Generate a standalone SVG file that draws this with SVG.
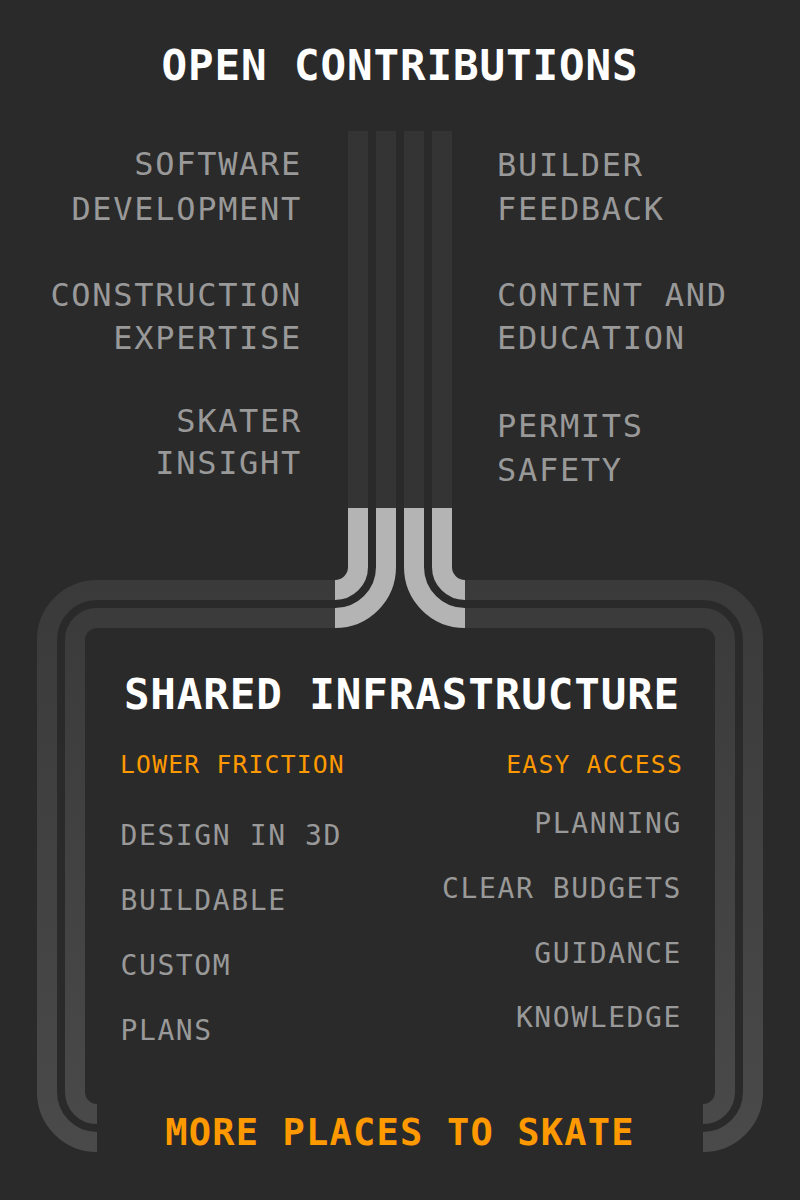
<svg xmlns="http://www.w3.org/2000/svg" width="800" height="1200" viewBox="0 0 800 1200">
  <defs>
    <linearGradient id="frameGrad" gradientUnits="userSpaceOnUse" x1="0" y1="580" x2="0" y2="1152">
      <stop offset="0" stop-color="#3a3a3a"/>
      <stop offset="1" stop-color="#4a4a4a"/>
    </linearGradient>
    <style>
      text { font-family: "DejaVu Sans Mono", "Liberation Mono", monospace; }
      .title { font-size: 42.5px; font-weight: bold; fill: #ffffff; letter-spacing: 0.9px; text-anchor: middle; }
      .contrib { font-size: 32px; fill: #999999; letter-spacing: 1.7px; }
      .head { font-size: 24.7px; fill: #ff9900; letter-spacing: 1.2px; }
      .item { font-size: 28px; fill: #999999; letter-spacing: 1.6px; }
      .foot { font-size: 37px; font-weight: bold; fill: #ff9900; letter-spacing: 1.2px; text-anchor: middle; }
      .end { text-anchor: end; }
      .frame { fill: none; stroke: url(#frameGrad); stroke-width: 20; }
      .strip { fill: #343434; }
      .flow { fill: none; stroke: #b4b4b4; stroke-width: 20; }
    </style>
  </defs>

  <rect x="0" y="0" width="800" height="1200" fill="#2a2a2a"/>

  <g id="open-contributions">
    <text class="title" x="400" y="80">OPEN CONTRIBUTIONS</text>
  </g>

  <g id="contributions-left">
    <text class="contrib end" x="302" y="175">SOFTWARE</text>
    <text class="contrib end" x="302" y="220">DEVELOPMENT</text>
    <text class="contrib end" x="302" y="306">CONSTRUCTION</text>
    <text class="contrib end" x="302" y="349">EXPERTISE</text>
    <text class="contrib end" x="302" y="432">SKATER</text>
    <text class="contrib end" x="302" y="474">INSIGHT</text>
  </g>

  <g id="contributions-right">
    <text class="contrib" x="497" y="176">BUILDER</text>
    <text class="contrib" x="497" y="220">FEEDBACK</text>
    <text class="contrib" x="497" y="306">CONTENT AND</text>
    <text class="contrib" x="497" y="349">EDUCATION</text>
    <text class="contrib" x="497" y="437">PERMITS</text>
    <text class="contrib" x="497" y="481">SAFETY</text>
  </g>

  <g id="connectors">
    <rect class="strip" x="348" y="131" width="20" height="377"/>
    <rect class="strip" x="376" y="131" width="20" height="377"/>
    <rect class="strip" x="404" y="131" width="20" height="377"/>
    <rect class="strip" x="432" y="131" width="20" height="377"/>
    <path class="flow" d="M358 508 V567 A23 23 0 0 1 335 590"/>
    <path class="flow" d="M386 508 V567 A51 51 0 0 1 335 618"/>
    <path class="flow" d="M414 508 V567 A51 51 0 0 0 465 618"/>
    <path class="flow" d="M442 508 V567 A23 23 0 0 0 465 590"/>
  </g>

  <g id="shared-infrastructure">
    <path class="frame" d="M335 590 H97 A50 50 0 0 0 47 640 V1092 A50 50 0 0 0 97 1142"/>
    <path class="frame" d="M335 618 H97 A22 22 0 0 0 75 640 V1092 A22 22 0 0 0 97 1114"/>
    <path class="frame" d="M465 590 H703 A50 50 0 0 1 753 640 V1092 A50 50 0 0 1 703 1142"/>
    <path class="frame" d="M465 618 H703 A22 22 0 0 1 725 640 V1092 A22 22 0 0 1 703 1114"/>
    <text class="title" x="402" y="709">SHARED INFRASTRUCTURE</text>
  </g>

  <g id="lower-friction">
    <text class="head" x="120" y="773">LOWER FRICTION</text>
    <text class="item" x="120.5" y="845">DESIGN IN 3D</text>
    <text class="item" x="120.5" y="910">BUILDABLE</text>
    <text class="item" x="120.5" y="975">CUSTOM</text>
    <text class="item" x="120.5" y="1040">PLANS</text>
  </g>

  <g id="easy-access">
    <text class="head end" x="683" y="773">EASY ACCESS</text>
    <text class="item end" x="682" y="833">PLANNING</text>
    <text class="item end" x="682" y="898">CLEAR BUDGETS</text>
    <text class="item end" x="682" y="963">GUIDANCE</text>
    <text class="item end" x="682" y="1027">KNOWLEDGE</text>
  </g>

  <g id="more-places">
    <text class="foot" x="400" y="1145">MORE PLACES TO SKATE</text>
  </g>
</svg>
